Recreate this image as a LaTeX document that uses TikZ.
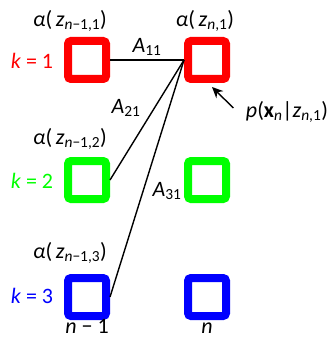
\documentclass[tikz,border=0pt]{standalone}
\usepackage{fontspec}
\setmainfont{Carlito}
\usetikzlibrary{positioning, arrows.meta}
\newcommand{\fwd}[1]{\textit{α}(\,\textit{z}\textsubscript{#1})}
\begin{document}
\begin{tikzpicture}[x=1pt, y=-1pt, font=\fontsize{22}{24}\selectfont,
  state/.style={draw=#1, line width=8pt, rounded corners=3pt, minimum size=38pt, inner sep=0pt, outer sep=4pt, fill=white},
  link/.style={line width=1.4pt}]
\useasboundingbox (0,0) rectangle (333,339);

% lattice of states
\node[state=red]   (l1) at (87,60) {};
\node[state=green] (l2) at (87,180) {};
\node[state=blue]  (l3) at (87,297) {};
\node[state=red]   (r1) at (207,60) {};
\node[state=green] (r2) at (207,180) {};
\node[state=blue]  (r3) at (207,297) {};

% labels
\node (al1) at (70,21) {\fwd{\textit{n}−1,1}};
\node (ar1) at (205,21) {\fwd{\textit{n},1}};
\node (al2) at (70,139) {\fwd{\textit{n}−1,2}};
\node (al3) at (70,253) {\fwd{\textit{n}−1,3}};
\node[red]   (k1) at (32,61) {\textit{k} = 1};
\node[green] (k2) at (32,181) {\textit{k} = 2};
\node[blue]  (k3) at (32,296) {\textit{k} = 3};
\node[anchor=base, inner sep=0pt] (nm1) at (87,333) {\textit{n} − 1};
\node[anchor=base, inner sep=0pt] (n)   at (207,333) {\textit{n}};
\node (plabel) at (287,112) {\textit{p}(\textbf{x}\textsubscript{\textit{n}}|\textit{z}\textsubscript{\textit{n},1})};

% transitions
\draw[link] (l1.east) -- (r1.west) node[midway, above] {\textit{A}\textsubscript{11}};
\draw[link] (l2.east) -- (r1.west);
\draw[link] (l3.east) -- (r1.west);
\node (a21) at (126,108) {\textit{A}\textsubscript{21}};
\node (a31) at (167,191) {\textit{A}\textsubscript{31}};

% emission
\coordinate (ptip) at (212,87);
\draw[link, -{Stealth[length=11pt, width=10pt]}] (plabel.west) ++(-9,-4) -- (ptip);
\end{tikzpicture}
\end{document}
